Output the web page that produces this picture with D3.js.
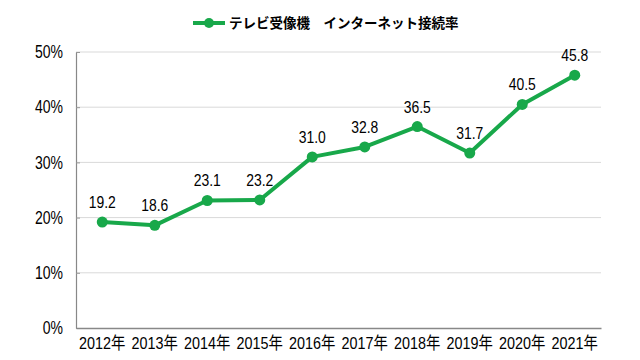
<!DOCTYPE html>
<html><head><meta charset="utf-8">
<script src="https://cdn.jsdelivr.net/npm/d3@7"></script>
<style>
html,body{margin:0;padding:0;background:#fff;}
svg{display:block;}
</style></head>
<body>
<svg id="c" width="640" height="360"></svg>
<script>
const years = ["2012年","2013年","2014年","2015年","2016年","2017年","2018年","2019年","2020年","2021年"];
const rates = [19.2, 18.6, 23.1, 23.2, 31.0, 32.8, 36.5, 31.7, 40.5, 45.8];
const yTicks = [0, 10, 20, 30, 40, 50];
const seriesName = "テレビ受像機　インターネット接続率";

const green = "#18a84a";
const numFont = "'Liberation Sans',Arial,'Noto Sans CJK JP',sans-serif";
const svg = d3.select("#c");
const m = {left: 76, right: 601, top: 52, bottom: 328};

const x = d3.scaleBand().domain(years).range([m.left, m.right]);
const y = d3.scaleLinear().domain([0, 50]).range([m.bottom, m.top]);

// gridlines
svg.append("g").selectAll("line").data(yTicks.filter(d => d > 0)).join("line")
  .attr("x1", m.left).attr("x2", m.right)
  .attr("y1", d => y(d)).attr("y2", d => y(d))
  .attr("stroke", "#d9d9d9").attr("stroke-width", 1);

// y axis
const ya = svg.append("g").attr("transform", `translate(${m.left},0)`)
  .call(d3.axisLeft(y).tickValues(yTicks).tickSizeInner(-4).tickSizeOuter(0).tickPadding(13).tickFormat(d => d + "%"));
ya.select(".domain").attr("stroke", "#888").attr("stroke-width", 1.2);
ya.selectAll(".tick line").attr("stroke", "#999");
ya.selectAll("text").attr("font-family", numFont).attr("font-size", 17.5).attr("fill", "#000")
  .attr("x", 0).attr("transform", "translate(-13,0) scale(0.8,1)");

// x axis
const xa = svg.append("g").attr("transform", `translate(0,${m.bottom})`)
  .call(d3.axisBottom(x).tickSize(0).tickPadding(9));
xa.select(".domain").attr("stroke", "#888").attr("stroke-width", 1.5);
xa.selectAll("text").attr("font-family", numFont).attr("font-size", 16.5).attr("fill", "#000")
  .attr("transform", "scale(0.87,1)");

// line
const cx = d => x(d) + x.bandwidth() / 2;
const line = d3.line().x((d, i) => cx(years[i])).y(d => y(d));
svg.append("path").datum(rates).attr("d", line)
  .attr("fill", "none").attr("stroke", green).attr("stroke-width", 4).attr("stroke-linejoin", "round");

svg.append("g").selectAll("circle").data(rates).join("circle")
  .attr("cx", (d, i) => cx(years[i])).attr("cy", d => y(d)).attr("r", 5.5).attr("fill", green);

svg.append("g").selectAll("text").data(rates).join("text")
  .attr("transform", (d, i) => `translate(${cx(years[i])},${y(d) - 14}) scale(0.82,1)`)
  .attr("text-anchor", "middle").attr("font-family", numFont).attr("font-size", 17).attr("fill", "#000")
  .text(d => d.toFixed(1));

// legend
const lg = svg.append("g");
lg.append("line").attr("x1", 193).attr("x2", 225).attr("y1", 23).attr("y2", 23)
  .attr("stroke", green).attr("stroke-width", 4);
lg.append("circle").attr("cx", 209).attr("cy", 23).attr("r", 5).attr("fill", green);
lg.append("text").attr("x", 229).attr("y", 28)
  .attr("font-family", "'Noto Sans CJK JP',sans-serif").attr("font-size", 13.5).attr("font-weight", "bold")
  .attr("fill", "#000").text(seriesName);
</script>
</body></html>
